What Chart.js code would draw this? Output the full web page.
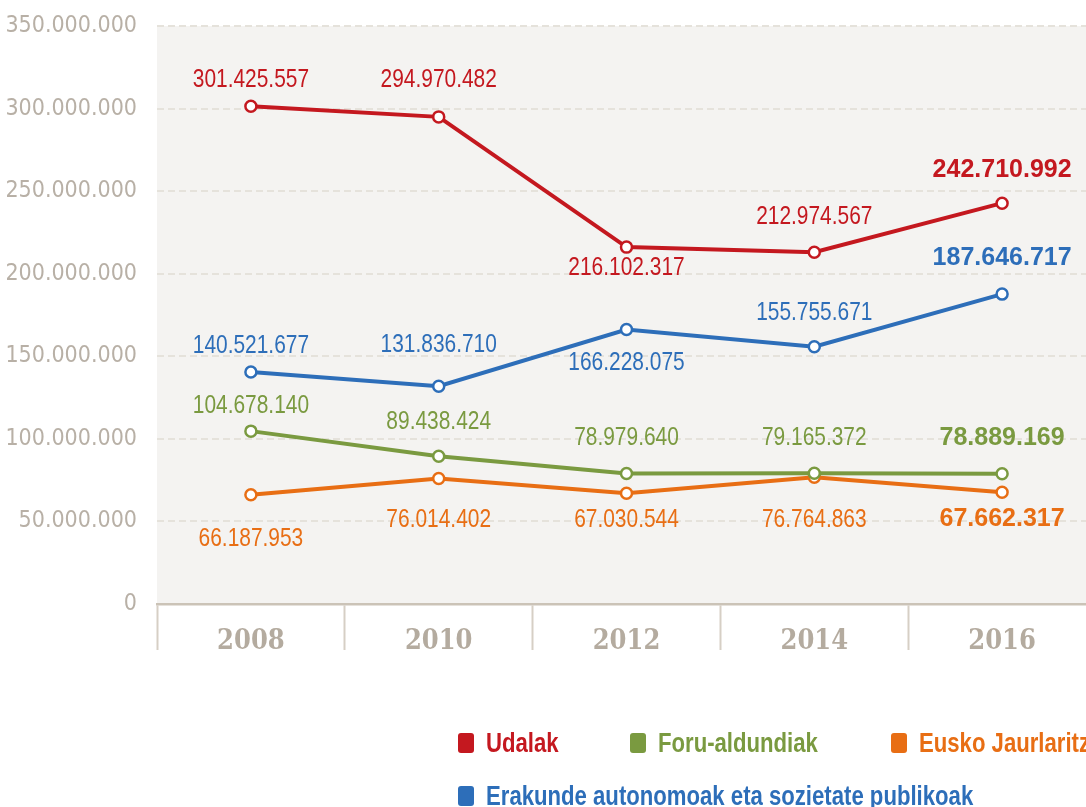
<!DOCTYPE html>
<html>
<head>
<meta charset="utf-8">
<script src="https://cdn.jsdelivr.net/npm/chart.js@4.4.0/dist/chart.umd.min.js"></script>
<style>
  html, body { margin: 0; padding: 0; background: #fff; overflow: hidden; }
  #wrap { position: relative; width: 1104px; height: 807px; }
  #legend { position: absolute; left: 0; top: 0; font-family: 'Liberation Sans', Arial, sans-serif; font-weight: bold; font-size: 27px; line-height: 30px; white-space: nowrap; }
  .item { position: absolute; height: 30px; }
  .sw { position: absolute; left: 0; top: 5px; width: 16px; height: 20px; border-radius: 3px; }
  .txt { position: absolute; left: 28px; top: 0; transform: scaleX(0.82); transform-origin: 0 0; }
</style>
</head>
<body>
<div id="wrap">
  <canvas id="myChart" width="1104" height="807"></canvas>
  <div id="legend"></div>
</div>
<script>
const years = ['2008', '2010', '2012', '2014', '2016'];
const udalak = [301425557, 294970482, 216102317, 212974567, 242710992];
const foruAldundiak = [104678140, 89438424, 78979640, 79165372, 78889169];
const euskoJaurlaritza = [66187953, 76014402, 67030544, 76764863, 67662317];
const erakundeak = [140521677, 131836710, 166228075, 155755671, 187646717];

// vertical offset (px) of each value label from its point
const udalakLabelY = [-26, -37, 21, -35, -33];
const foruLabelY = [-25, -34, -36, -35, -36];
const euskoLabelY = [44, 42, 27, 43, 27];
const erakundeLabelY = [-26, -41, 33, -34, -36];

const RED = '#c4181f', GREEN = '#7a9a40', ORANGE = '#e86e14', BLUE = '#2d6eb9';

const fmt = v => String(Math.round(v)).replace(/\B(?=(\d{3})+(?!\d))/g, '.');

function series(label, data, color, offsets) {
    return {
        label: label,
        data: data,
        borderColor: color,
        backgroundColor: '#fff',
        borderWidth: 4,
        pointRadius: 5.5,
        pointBorderWidth: 2.5,
        pointBackgroundColor: '#fff',
        pointBorderColor: color,
        tension: 0,
        labelOffsets: offsets
    };
}

const plotBg = {
    id: 'plotBg',
    beforeDraw(chart) {
        const a = chart.chartArea, c = chart.ctx;
        c.save();
        c.fillStyle = '#f4f3f1';
        c.fillRect(a.left, a.top, a.right - a.left, a.bottom - a.top);
        c.restore();
    }
};

// value labels; regular ones squeezed like a narrow face, last one bold
const valueLabels = {
    id: 'valueLabels',
    afterDatasetsDraw(chart) {
        const c = chart.ctx;
        chart.data.datasets.forEach((ds, i) => {
            const meta = chart.getDatasetMeta(i);
            meta.data.forEach((pt, j) => {
                const last = j === ds.data.length - 1;
                c.save();
                c.textAlign = 'center';
                c.textBaseline = 'middle';
                c.fillStyle = ds.borderColor;
                c.translate(pt.x, pt.y + ds.labelOffsets[j]);
                if (last) {
                    c.font = "bold 25px 'Liberation Sans', Arial, sans-serif";
                } else {
                    c.font = "25.5px 'Liberation Sans', Arial, sans-serif";
                    c.scale(0.82, 1);
                }
                c.fillText(fmt(ds.data[j]), 0, 0);
                c.restore();
            });
        });
    }
};

const chart = new Chart(document.getElementById('myChart'), {
    type: 'line',
    data: {
        labels: years,
        datasets: [
            series('Udalak', udalak, RED, udalakLabelY),
            series('Foru-aldundiak', foruAldundiak, GREEN, foruLabelY),
            series('Eusko Jaurlaritza', euskoJaurlaritza, ORANGE, euskoLabelY),
            series('Erakunde autonomoak eta sozietate publikoak', erakundeak, BLUE, erakundeLabelY)
        ]
    },
    options: {
        responsive: false,
        animation: false,
        events: [],
        layout: { padding: { top: 26, right: 0, bottom: 0, left: 0 } },
        plugins: {
            legend: { display: false },
            tooltip: { enabled: false }
        },
        scales: {
            x: {
                offset: true,
                afterFit: s => { s.height = 203; s.paddingLeft = 0; s.paddingRight = 0; },
                grid: {
                    offset: true,
                    drawOnChartArea: false,
                    drawTicks: true,
                    tickLength: 46,
                    tickWidth: 2,
                    tickColor: '#d6cfc5'
                },
                border: { display: true, color: '#cbc3b7', width: 2.5 },
                ticks: {
                    padding: -24,
                    color: '#b4ab9f',
                    font: { family: "'DejaVu Serif Condensed', 'DejaVu Serif', serif", weight: 'bold', size: 27 }
                }
            },
            y: {
                min: 0,
                max: 350000000,
                afterFit: s => { s.width = 157; s.paddingTop = 0; s.paddingBottom = 0; },
                grid: {
                    drawTicks: false,
                    lineWidth: 2,
                    color: ctx => ctx.tick && ctx.tick.value === 0 ? 'rgba(0,0,0,0)' : '#e5e2db'
                },
                border: { display: false, dash: [7, 4] },
                ticks: {
                    stepSize: 50000000,
                    padding: 20,
                    color: '#b8b0a6',
                    font: { family: "'DejaVu Sans Condensed', 'DejaVu Sans', sans-serif", size: 23 },
                    callback: v => fmt(v)
                }
            }
        }
    },
    plugins: [plotBg, valueLabels]
});

// legend built from the datasets
const legendSpots = [[458, 728], [630, 728], [891, 728], [458, 781]];
const legend = document.getElementById('legend');
chart.data.datasets.forEach((ds, i) => {
    const item = document.createElement('div');
    item.className = 'item';
    item.style.left = legendSpots[i][0] + 'px';
    item.style.top = legendSpots[i][1] + 'px';
    item.style.color = ds.borderColor;
    const sw = document.createElement('span');
    sw.className = 'sw';
    sw.style.background = ds.borderColor;
    const txt = document.createElement('span');
    txt.className = 'txt';
    txt.textContent = ds.label;
    item.appendChild(sw);
    item.appendChild(txt);
    legend.appendChild(item);
});
</script>
</body>
</html>
